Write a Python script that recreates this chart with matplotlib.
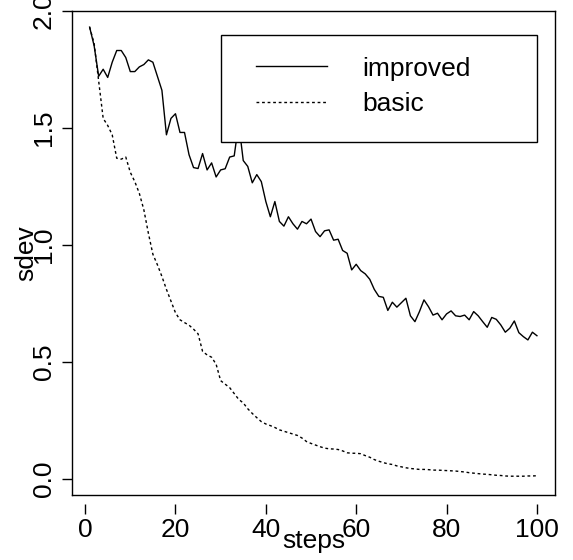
import matplotlib
matplotlib.use("Agg")
import matplotlib.pyplot as plt
from matplotlib.patches import Rectangle

plt.rcParams['font.family'] = ['Liberation Sans', 'DejaVu Sans']

# data
steps = list(range(1, 101))
improved = [1.93, 1.85, 1.72, 1.75, 1.715, 1.78, 1.83, 1.83, 1.80, 1.74,
            1.74, 1.76, 1.77, 1.79, 1.78, 1.72, 1.66, 1.47, 1.54, 1.56,
            1.48, 1.48, 1.385, 1.33, 1.326, 1.39, 1.32, 1.35, 1.29, 1.32,
            1.325, 1.375, 1.38, 1.52, 1.36, 1.335, 1.265, 1.30, 1.27, 1.185,
            1.12, 1.185, 1.10, 1.08, 1.12, 1.09, 1.067, 1.10, 1.09, 1.11,
            1.057, 1.035, 1.06, 1.064, 1.02, 1.024, 0.976, 0.964, 0.893, 0.917,
            0.89, 0.876, 0.853, 0.81, 0.78, 0.776, 0.72, 0.755, 0.734, 0.753,
            0.772, 0.697, 0.672, 0.715, 0.765, 0.736, 0.70, 0.708, 0.68, 0.705,
            0.718, 0.697, 0.694, 0.70, 0.68, 0.715, 0.697, 0.672, 0.648, 0.69,
            0.682, 0.658, 0.627, 0.644, 0.675, 0.625, 0.608, 0.594, 0.627, 0.612]
basic = [1.93, 1.86, 1.70, 1.54, 1.51, 1.47, 1.37, 1.366, 1.375, 1.31,
         1.27, 1.22, 1.15, 1.05, 0.96, 0.915, 0.865, 0.81, 0.76, 0.71,
         0.68, 0.668, 0.657, 0.64, 0.62, 0.545, 0.53, 0.52, 0.49, 0.42,
         0.405, 0.39, 0.365, 0.34, 0.325, 0.30, 0.28, 0.262, 0.245, 0.235,
         0.228, 0.22, 0.21, 0.204, 0.198, 0.192, 0.186, 0.175, 0.16, 0.152,
         0.145, 0.138, 0.132, 0.129, 0.128, 0.126, 0.12, 0.112, 0.11, 0.11,
         0.108, 0.10, 0.093, 0.083, 0.076, 0.07, 0.065, 0.062, 0.056, 0.052,
         0.048, 0.045, 0.043, 0.041, 0.041, 0.04, 0.038, 0.038, 0.037, 0.036,
         0.035, 0.034, 0.032, 0.03, 0.027, 0.025, 0.023, 0.021, 0.02, 0.018,
         0.016, 0.015, 0.013, 0.012, 0.012, 0.012, 0.012, 0.013, 0.013, 0.014]
xticks = [0, 20, 40, 60, 80, 100]
yticks = [0.0, 0.5, 1.0, 1.5, 2.0]
labels = ["improved", "basic"]

FS = 19
W, H = 573, 560

fig = plt.figure(figsize=(W / 100, H / 100), dpi=100)
ax = fig.add_axes([72 / W, 1 - 494.7 / H, 483 / W, 484 / H])

ax.plot(steps, improved, color="black", lw=1.0, label=labels[0])
ax.plot(steps, basic, color="black", lw=1.0, linestyle=(0, (2, 2)), label=labels[1])

ax.set_xlim(-2.9, 104)
ax.set_ylim(-0.067, 2.0)

for s in ax.spines.values():
    s.set_linewidth(1.0)

# y axis: ticks on the box, labels rotated like R
ax.set_yticks(yticks)
ax.set_yticklabels([f"{v:.1f}" for v in yticks])
ax.tick_params(axis="y", length=7.2, width=1.0, pad=4.6, labelsize=FS)
for lab in ax.get_yticklabels():
    lab.set_rotation(90)
    lab.set_va("center")

# x axis: ticks sit a bit below the box, no axis line
ax.set_xticks([])
sec = ax.secondary_xaxis(-9 / 484)
sec.set_xticks(xticks)
sec.spines["bottom"].set_visible(False)
sec.tick_params(axis="x", length=7.2, width=1.0, pad=3, labelsize=FS)

fig.text(313.5 / W, 1 - 541 / H, "steps", ha="center", va="center", fontsize=FS)
fig.text(26 / W, 1 - 253 / H, "sdev", ha="center", va="center", rotation=90, fontsize=FS)

# legend box (R style: square white box)
ax.add_patch(Rectangle(((221 - 72) / 483, (494.7 - 141.7) / 484),
                       (537 - 221) / 483, (141.7 - 35) / 484,
                       transform=ax.transAxes, facecolor="white",
                       edgecolor="black", lw=1.0, zorder=4))
ax.legend(loc="upper left", bbox_to_anchor=((256 - 72) / 483, (494.7 - 56.7) / 484),
          frameon=False, fontsize=FS, borderpad=0, borderaxespad=0,
          handlelength=2.7, handletextpad=1.33, labelspacing=0.43)

fig.savefig("out.png", dpi=100)
